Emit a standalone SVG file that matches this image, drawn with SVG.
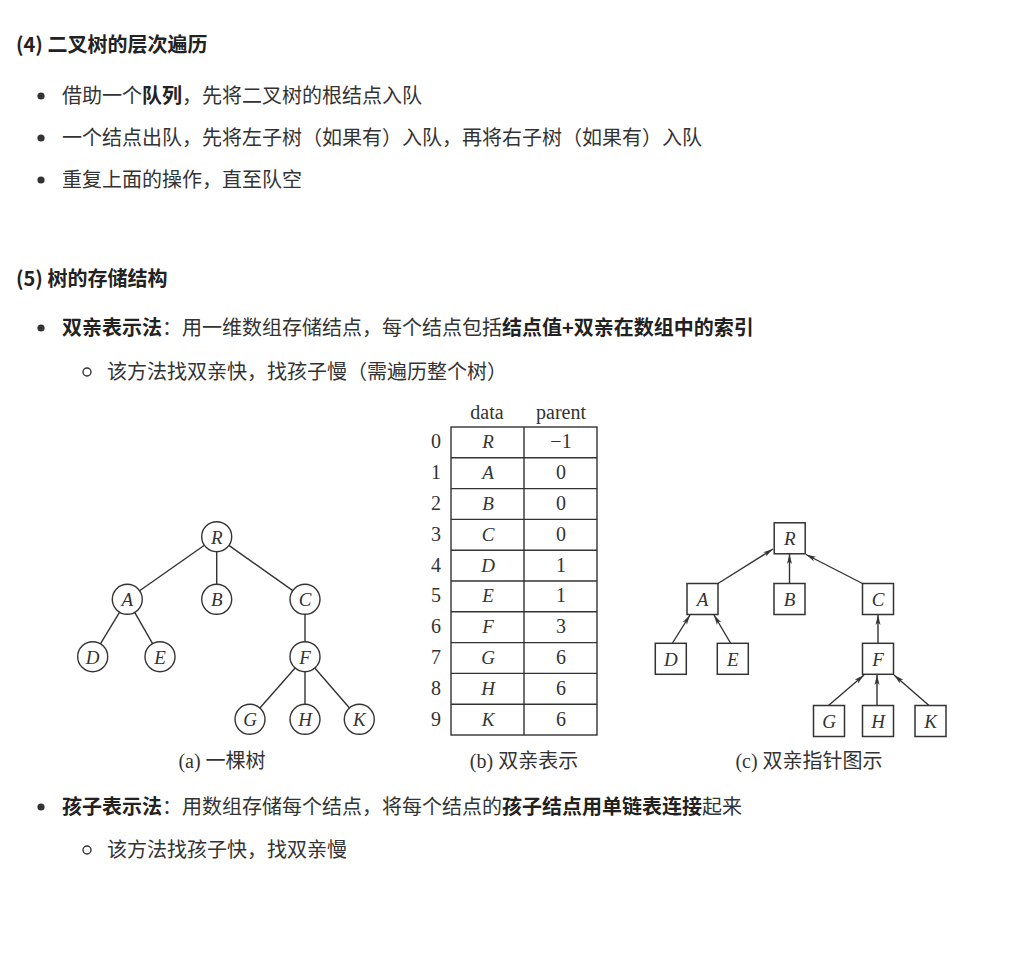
<svg xmlns="http://www.w3.org/2000/svg" width="1019" height="966" viewBox="0 0 1019 966">
<style>
.t{font-family:"Noto Sans CJK SC","Noto Sans",sans-serif;font-size:20px;fill:#333}
.b{font-weight:700;fill:#222}
.dot{fill:#333}
.ring{fill:none;stroke:#333;stroke-width:1.4}
.fig{font-family:"Liberation Serif","Noto Sans CJK SC",serif;font-size:20px;fill:#333}
.it{font-family:"Liberation Serif",serif;font-style:italic;font-size:19px;fill:#333;text-anchor:middle}
.num{font-family:"Liberation Serif",serif;font-size:20px;fill:#333;text-anchor:middle}
.cir{fill:#fff;stroke:#333;stroke-width:1.4}
.box{fill:#fff;stroke:#333;stroke-width:1.5}
.edge{stroke:#333;stroke-width:1.4;fill:none}
.grid{stroke:#333;stroke-width:1.4;fill:none}
</style>
<defs>
<marker id="ah" markerUnits="userSpaceOnUse" markerWidth="11" markerHeight="7" refX="10" refY="3.5" orient="auto">
<path d="M0,1 L10,3.5 L0,6 L2.5,3.5 Z" fill="#333"/>
</marker>
</defs>
<rect width="1019" height="966" fill="#fff"/>

<g id="text">
<text class="t b" x="16" y="52">(4) 二叉树的层次遍历</text>
<circle class="dot" cx="41" cy="96" r="3.6"/>
<text class="t" x="62" y="103">借助一个<tspan class="b">队列</tspan>，先将二叉树的根结点入队</text>
<circle class="dot" cx="41" cy="138" r="3.6"/>
<text class="t" x="62" y="145">一个结点出队，先将左子树（如果有）入队，再将右子树（如果有）入队</text>
<circle class="dot" cx="41" cy="180" r="3.6"/>
<text class="t" x="62" y="187">重复上面的操作，直至队空</text>

<text class="t b" x="16" y="286">(5) 树的存储结构</text>
<circle class="dot" cx="41" cy="328" r="3.6"/>
<text class="t" x="62" y="335"><tspan class="b">双亲表示法</tspan>：用一维数组存储结点，每个结点包括<tspan class="b">结点值+双亲在数组中的索引</tspan></text>
<circle class="ring" cx="87" cy="372" r="4"/>
<text class="t" x="107" y="379">该方法找双亲快，找孩子慢（需遍历整个树）</text>

<circle class="dot" cx="41" cy="807" r="3.6"/>
<text class="t" x="62" y="814"><tspan class="b">孩子表示法</tspan>：用数组存储每个结点，将每个结点的<tspan class="b">孩子结点用单链表连接</tspan>起来</text>
<circle class="ring" cx="87" cy="850" r="4"/>
<text class="t" x="107" y="857">该方法找孩子快，找双亲慢</text>
</g>

<g id="connectors">
<!-- tree (a) -->
<line class="edge" x1="204.4" y1="545.3" x2="139.6" y2="590.7"/>
<line class="edge" x1="216.7" y1="551.7" x2="216.7" y2="584.3"/>
<line class="edge" x1="228.9" y1="545.4" x2="292.8" y2="590.6"/>
<line class="edge" x1="119.6" y1="612.2" x2="100.4" y2="643.8"/>
<line class="edge" x1="134.7" y1="612.3" x2="152.6" y2="643.7"/>
<line class="edge" x1="305" y1="614.3" x2="305" y2="641.7"/>
<line class="edge" x1="295.1" y1="668" x2="259.9" y2="708"/>
<line class="edge" x1="305" y1="671.7" x2="305" y2="704.3"/>
<line class="edge" x1="314.8" y1="668" x2="349.5" y2="708"/>
<!-- tree (c) -->
<line class="edge" x1="718" y1="583.5" x2="773" y2="549" marker-end="url(#ah)"/>
<line class="edge" x1="789.5" y1="583.5" x2="789.5" y2="554" marker-end="url(#ah)"/>
<line class="edge" x1="862.5" y1="583.5" x2="806" y2="554.5" marker-end="url(#ah)"/>
<line class="edge" x1="672.5" y1="643" x2="690" y2="615" marker-end="url(#ah)"/>
<line class="edge" x1="730.5" y1="643" x2="714" y2="615" marker-end="url(#ah)"/>
<line class="edge" x1="878" y1="643" x2="878" y2="615" marker-end="url(#ah)"/>
<line class="edge" x1="828.5" y1="705.5" x2="864" y2="675" marker-end="url(#ah)"/>
<line class="edge" x1="877" y1="705.5" x2="877" y2="675" marker-end="url(#ah)"/>
<line class="edge" x1="929" y1="705.5" x2="894" y2="675" marker-end="url(#ah)"/>
</g>

<!-- tree (a) nodes -->
<g id="a-R"><circle class="cir" cx="216.7" cy="536.7" r="15"/><text class="it" x="216.7" y="543.5">R</text></g>
<g id="a-A"><circle class="cir" cx="127.3" cy="599.3" r="15"/><text class="it" x="127.3" y="606">A</text></g>
<g id="a-B"><circle class="cir" cx="216.7" cy="599.3" r="15"/><text class="it" x="216.7" y="606">B</text></g>
<g id="a-C"><circle class="cir" cx="305" cy="599.3" r="15"/><text class="it" x="305" y="606">C</text></g>
<g id="a-D"><circle class="cir" cx="92.7" cy="656.7" r="15"/><text class="it" x="92.7" y="663.5">D</text></g>
<g id="a-E"><circle class="cir" cx="160" cy="656.7" r="15"/><text class="it" x="160" y="663.5">E</text></g>
<g id="a-F"><circle class="cir" cx="305" cy="656.7" r="15"/><text class="it" x="305" y="663.5">F</text></g>
<g id="a-G"><circle class="cir" cx="250" cy="719.3" r="15"/><text class="it" x="250" y="726">G</text></g>
<g id="a-H"><circle class="cir" cx="305" cy="719.3" r="15"/><text class="it" x="305" y="726">H</text></g>
<g id="a-K"><circle class="cir" cx="359.3" cy="719.3" r="15"/><text class="it" x="359.3" y="726">K</text></g>
<text class="fig" x="222" y="768" text-anchor="middle">(a) 一棵树</text>

<!-- table (b) -->
<g id="table">
<text class="num" x="487" y="419">data</text>
<text class="num" x="561" y="419">parent</text>
<rect class="grid" x="451" y="427" width="146" height="308"/>
<line class="grid" x1="524" y1="427" x2="524" y2="735"/>
<line class="grid" x1="451" y1="457.8" x2="597" y2="457.8"/>
<line class="grid" x1="451" y1="488.6" x2="597" y2="488.6"/>
<line class="grid" x1="451" y1="519.4" x2="597" y2="519.4"/>
<line class="grid" x1="451" y1="550.2" x2="597" y2="550.2"/>
<line class="grid" x1="451" y1="581" x2="597" y2="581"/>
<line class="grid" x1="451" y1="611.8" x2="597" y2="611.8"/>
<line class="grid" x1="451" y1="642.6" x2="597" y2="642.6"/>
<line class="grid" x1="451" y1="673.4" x2="597" y2="673.4"/>
<line class="grid" x1="451" y1="704.2" x2="597" y2="704.2"/>
<g class="num">
<text x="436" y="448">0</text><text x="436" y="479">1</text><text x="436" y="510">2</text><text x="436" y="540.5">3</text><text x="436" y="571.5">4</text>
<text x="436" y="602">5</text><text x="436" y="633">6</text><text x="436" y="664">7</text><text x="436" y="694.5">8</text><text x="436" y="725.5">9</text>
<text x="561" y="448">−1</text><text x="561" y="479">0</text><text x="561" y="510">0</text><text x="561" y="540.5">0</text><text x="561" y="571.5">1</text>
<text x="561" y="602">1</text><text x="561" y="633">3</text><text x="561" y="664">6</text><text x="561" y="694.5">6</text><text x="561" y="725.5">6</text>
</g>
<text class="it" x="488" y="448">R</text><text class="it" x="488" y="479">A</text><text class="it" x="488" y="510">B</text><text class="it" x="488" y="540.5">C</text><text class="it" x="488" y="571.5">D</text>
<text class="it" x="488" y="602">E</text><text class="it" x="488" y="633">F</text><text class="it" x="488" y="664">G</text><text class="it" x="488" y="694.5">H</text><text class="it" x="488" y="725.5">K</text>
</g>
<text class="fig" x="524" y="768" text-anchor="middle">(b) 双亲表示</text>

<!-- tree (c) nodes -->
<g id="c-R"><rect class="box" x="774.2" y="522.8" width="31" height="31"/><text class="it" x="789.7" y="545">R</text></g>
<g id="c-A"><rect class="box" x="687" y="583.5" width="31" height="31"/><text class="it" x="702.5" y="605.7">A</text></g>
<g id="c-B"><rect class="box" x="774" y="583.5" width="31" height="31"/><text class="it" x="789.5" y="605.7">B</text></g>
<g id="c-C"><rect class="box" x="862.5" y="583.5" width="31" height="31"/><text class="it" x="878" y="605.7">C</text></g>
<g id="c-D"><rect class="box" x="655.3" y="643.3" width="31" height="31"/><text class="it" x="670.8" y="665.5">D</text></g>
<g id="c-E"><rect class="box" x="717.3" y="643.3" width="31" height="31"/><text class="it" x="732.8" y="665.5">E</text></g>
<g id="c-F"><rect class="box" x="862.5" y="643.3" width="31" height="31"/><text class="it" x="878" y="665.5">F</text></g>
<g id="c-G"><rect class="box" x="813.5" y="705.5" width="31" height="31"/><text class="it" x="829" y="727.7">G</text></g>
<g id="c-H"><rect class="box" x="862.5" y="705.5" width="31" height="31"/><text class="it" x="878" y="727.7">H</text></g>
<g id="c-K"><rect class="box" x="915" y="705.5" width="31" height="31"/><text class="it" x="930.5" y="727.7">K</text></g>
<text class="fig" x="809" y="768" text-anchor="middle">(c) 双亲指针图示</text>
</svg>
